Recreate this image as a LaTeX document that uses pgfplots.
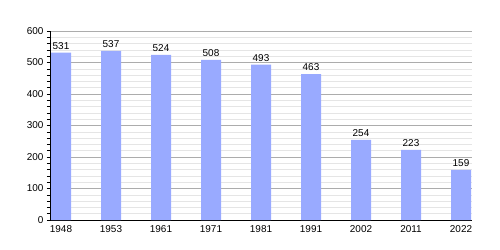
\documentclass[border=0pt]{standalone}
\usepackage{fontspec}
\setmainfont{Liberation Sans}
\usepackage{pgfplots}
\pgfplotsset{compat=1.18}
\definecolor{barblue}{HTML}{99AAFF}
\begin{document}
\begin{tikzpicture}
\path (-50bp,-30bp) rectangle (450bp,220bp);
\begin{axis}[
  at={(0,0)}, anchor=south west,
  scale only axis, width=422bp, height=189bp,
  xmin=-0.22, xmax=8.22, ymin=0, ymax=600,
  axis x line*=bottom, axis y line*=left,
  axis line style={black, line width=0.8pt},
  xtick={0,...,8},
  xticklabels={1948,1953,1961,1971,1981,1991,2002,2011,2022},
  x tick style={draw=none},
  ytick={0,100,...,600},
  minor ytick={20,40,...,580},
  y tick style={black, line width=0.5pt},
  tick align=outside,
  major tick length=3bp, minor tick length=3bp,
  ymajorgrids, yminorgrids,
  major grid style={gray!65, line width=0.6pt},
  minor grid style={gray!20, line width=0.5pt},
  tick label style={font=\fontsize{10}{11}\selectfont},
  /pgf/number format/assume math mode=true,
  xticklabel style={yshift=1bp},
  nodes near coords,
  every node near coord/.append style={font=\fontsize{10}{11}\selectfont, black, yshift=0bp},
  clip=false,
]
\addplot[ybar, bar width=20bp, fill=barblue, draw=none] coordinates {
(0,531) (1,537) (2,524) (3,508) (4,493) (5,463) (6,254) (7,223) (8,159)
};
\end{axis}
\end{tikzpicture}
\end{document}
